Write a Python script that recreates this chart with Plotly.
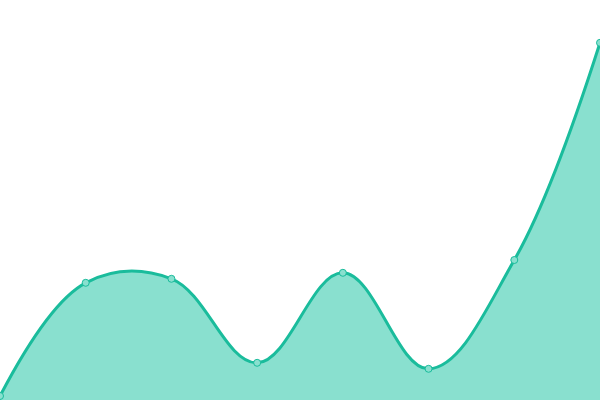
import plotly.graph_objects as go

# values (0-100 scale)
x_vals = [0, 1, 2, 3, 4, 5, 6, 7]
y_vals = [1, 29.3, 30.3, 9.3, 31.8, 7.8, 35, 89.3]

line_color = "#1abc9c"
fill_color = "#89e0cf"

fig = go.Figure()
fig.add_trace(go.Scatter(
    x=x_vals,
    y=y_vals,
    mode="lines+markers",
    line=dict(color=line_color, width=3, shape="spline", smoothing=1.1),
    fill="tozeroy",
    fillcolor=fill_color,
    marker=dict(size=7, color=fill_color, line=dict(color=line_color, width=1)),
    cliponaxis=False,
    hoverinfo="skip",
))

fig.update_layout(
    width=600,
    height=400,
    margin=dict(l=0, r=0, t=0, b=0),
    paper_bgcolor="white",
    plot_bgcolor="white",
    showlegend=False,
    xaxis=dict(range=[0, 7], visible=False, fixedrange=True),
    yaxis=dict(range=[0, 100], visible=False, fixedrange=True),
)

# drop the default page margin so the chart sits at the window's corner
fig.write_html(
    "out.html",
    config={"displayModeBar": False},
    post_script="document.body.style.margin='0';",
)
